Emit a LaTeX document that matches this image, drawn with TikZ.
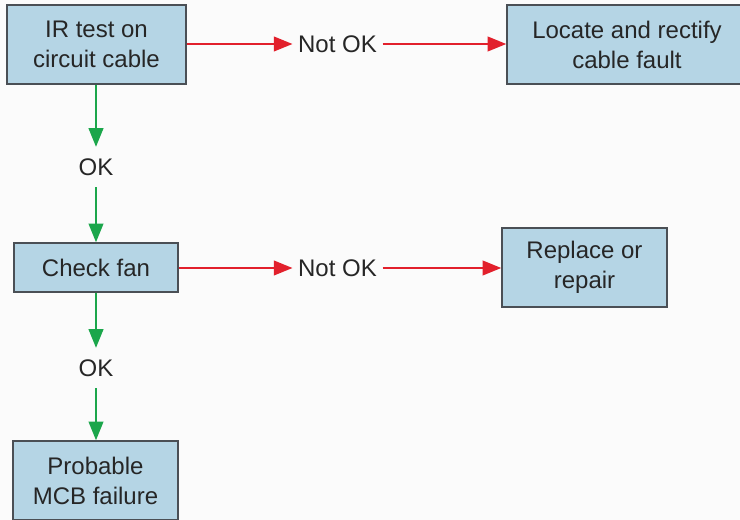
\documentclass[tikz,border=0pt]{standalone}
\usepackage{fontspec}
\setmainfont{Liberation Sans}
\usetikzlibrary{arrows.meta}
\definecolor{boxblue}{HTML}{B5D5E5}
\definecolor{boxline}{HTML}{4A4F55}
\definecolor{notred}{HTML}{E2202C}
\definecolor{okgreen}{HTML}{1BA64B}
\definecolor{paper}{HTML}{FBFBFB}
\begin{document}
\begin{tikzpicture}[x=0.75pt, y=-0.75pt, line width=1.5pt,
  every node/.style={font=\fontsize{18}{22.5}\selectfont, text=black!85},
  stepbox/.style={draw=boxline, line width=1.1pt, fill=boxblue, align=center, inner sep=0pt, minimum height=59.25pt},
  answer/.style={inner xsep=3.5pt, inner ysep=8pt},
  bad/.style={notred, -{Triangle[length=14pt, width=11pt]}},
  good/.style={okgreen, -{Triangle[length=14pt, width=11pt]}}]
  \path[use as bounding box, fill=paper] (0,0) rectangle (740,520);
  % boxes
  \node[stepbox, minimum width=134.25pt] (irtest) at (96.5,44.5) {IR test on\\circuit cable};
  \node[stepbox, minimum width=180pt] (locate) at (627,44.5) {Locate and rectify\\cable fault};
  \node[stepbox, minimum width=123pt, minimum height=36.75pt] (fan) at (96,267.5) {Check fan};
  \node[stepbox, minimum width=123.75pt] (replace) at (584.5,267.5) {Replace or\\repair};
  \node[stepbox, minimum width=123.75pt] (mcb) at (95.5,480.5) {Probable\\MCB failure};
  % answers
  \node[answer] (notok1) at (337.5,44) {Not OK};
  \node[answer] (notok2) at (337.5,268) {Not OK};
  \node[answer] (ok1) at (96,167) {OK};
  \node[answer] (ok2) at (96,368) {OK};
  % arrows
  \draw[bad] (irtest.east |- notok1) -- (notok1.west);
  \draw[bad] (notok1.east) -- (locate.west |- notok1);
  \draw[bad] (fan.east |- notok2) -- (notok2.west);
  \draw[bad] (notok2.east) -- (replace.west |- notok2);
  \draw[good] (irtest.south -| ok1) -- (ok1.north);
  \draw[good] (ok1.south) -- (fan.north -| ok1);
  \draw[good] (fan.south -| ok2) -- (ok2.north);
  \draw[good] (ok2.south) -- (mcb.north -| ok2);
\end{tikzpicture}
\end{document}
